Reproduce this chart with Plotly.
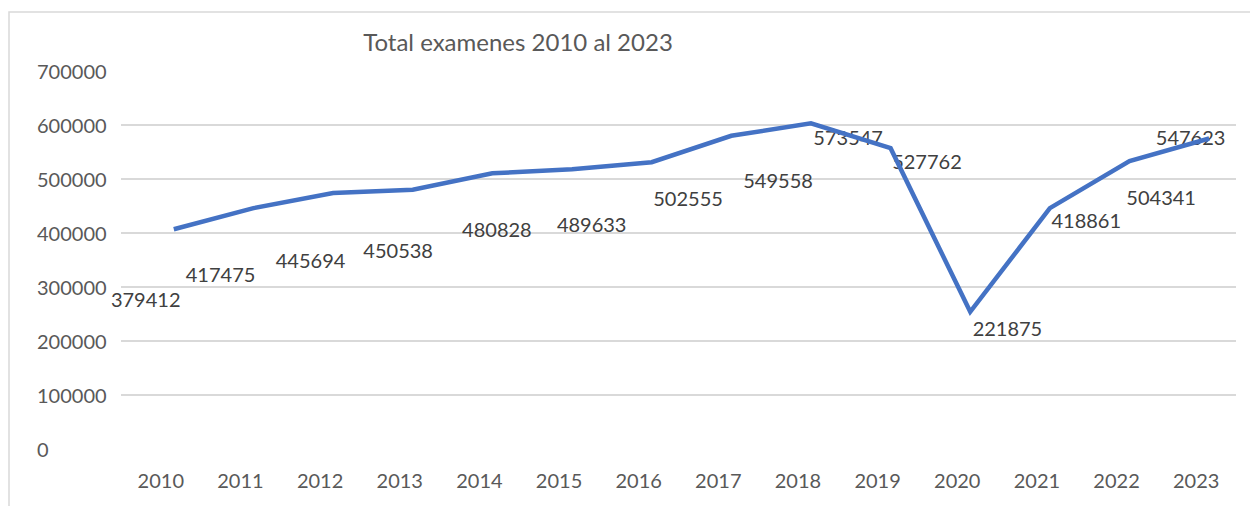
import plotly.graph_objects as go

years = ["2010", "2011", "2012", "2013", "2014", "2015", "2016",
         "2017", "2018", "2019", "2020", "2021", "2022", "2023"]
# line values as drawn in the picture
line_values = [407000, 446000, 474000, 480000, 510500, 518000, 531000,
               580000, 603000, 557000, 254000, 446000, 533000, 575000]
# data label texts and where they sit (category index, value)
label_texts = ["379412", "417475", "445694", "450538", "480828", "489633", "502555",
               "549558", "573547", "527762", "221875", "418861", "504341", "547623"]
label_x = [-0.19, 0.75, 1.88, 2.98, 4.22, 5.41, 6.62,
           7.75, 8.63, 9.62, 10.63, 11.62, 12.56, 12.93]
label_y = [272000, 318500, 344000, 363000, 402000, 411000, 459000,
           492600, 572000, 528000, 218500, 418500, 461000, 572000]
y_ticks = [0, 100000, 200000, 300000, 400000, 500000, 600000, 700000]

FONT = "Lato"
OFF = 8  # page body margin
W, H = 1258 - OFF, 506 - OFF
L, R, T, B = 121 - OFF, 22, 71 - OFF, 57
pw, ph = W - L - R, H - T - B
n = len(years)
shift = 0.163  # line drawn slightly right of the category centres

fig = go.Figure()
fig.add_trace(go.Scatter(
    x=list(range(n)), y=line_values, mode="lines", xaxis="x2",
    line=dict(color="#4472C4", width=4.5), hoverinfo="skip", showlegend=False))
fig.add_trace(go.Scatter(
    x=label_x, y=label_y, mode="text", text=label_texts,
    textposition="middle center", cliponaxis=False,
    textfont=dict(family=FONT, size=20, color="#404040"),
    hoverinfo="skip", showlegend=False))

annotations = []
for v in y_ticks:
    annotations.append(dict(
        x=(35 - 121) / pw, xref="paper", y=v, yref="y", xanchor="left", yanchor="middle",
        text=str(v), showarrow=False, font=dict(family=FONT, size=20, color="#595959")))

fig.update_layout(
    width=W, height=H,
    margin=dict(l=L, r=R, t=T, b=B, autoexpand=False),
    paper_bgcolor="white", plot_bgcolor="white",
    title=dict(text="Total examenes 2010 al 2023", x=(518 - OFF) / W, xanchor="center",
               y=1 - (43 - OFF) / H, yanchor="middle", xref="container", yref="container",
               font=dict(family=FONT, size=24, color="#595959")),
    xaxis=dict(range=[-0.5, n - 0.5], tickmode="array", tickvals=list(range(n)),
               ticktext=years, showgrid=False, zeroline=False, showline=False,
               ticks="", ticklabelstandoff=18,
               tickfont=dict(family=FONT, size=20, color="#595959")),
    xaxis2=dict(range=[-0.5 - shift, n - 0.5 - shift], overlaying="x", visible=False),
    yaxis=dict(range=[0, 700000], tickvals=y_ticks, showticklabels=False,
               showgrid=True, gridcolor="#d9d9d9", gridwidth=1.5, zeroline=False),
    annotations=annotations,
    shapes=[dict(type="rect", xref="paper", yref="paper",
                 x0=(9 - 121) / pw, x1=2, y0=-1, y1=(449 - 12) / ph,
                 line=dict(color="#d9d9d9", width=1.5), layer="below")],
)

fig.write_html("out.html")
